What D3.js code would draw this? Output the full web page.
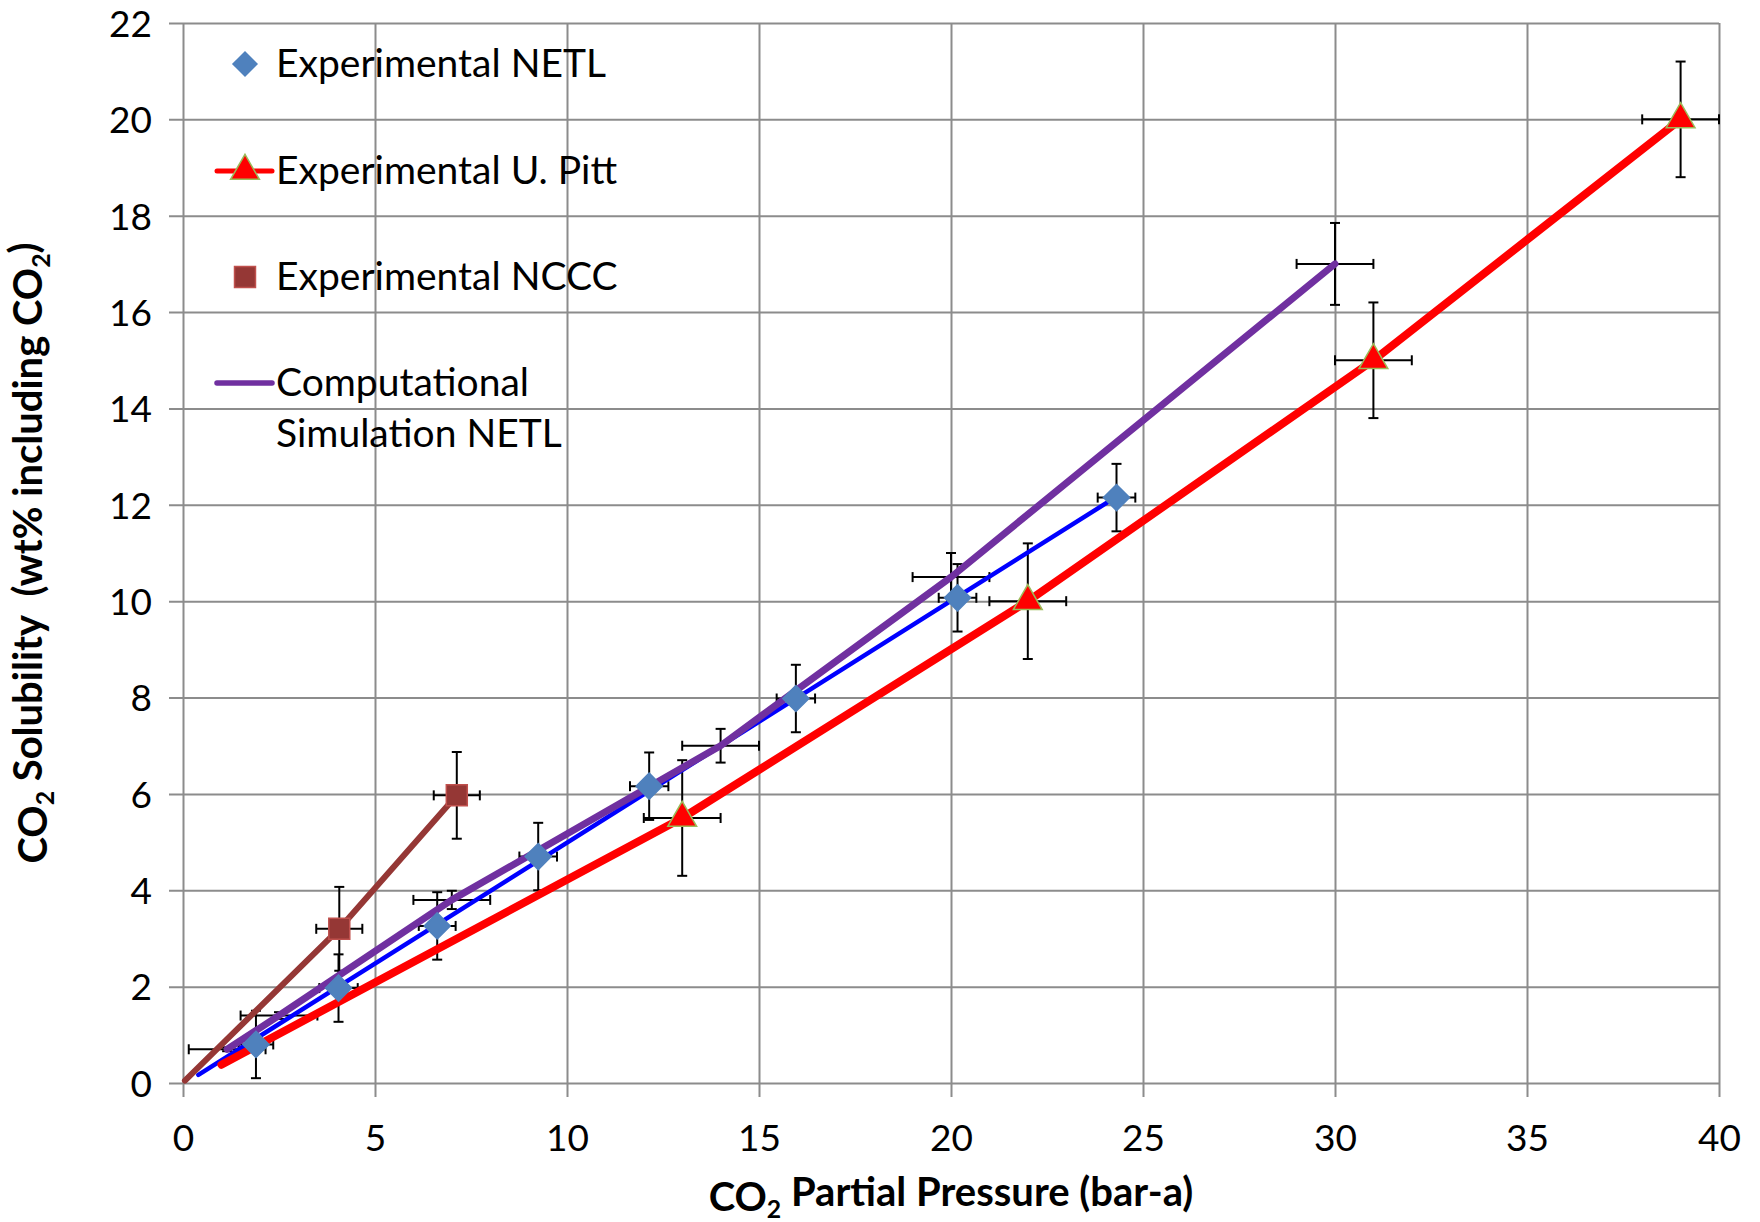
<!DOCTYPE html>
<html>
<head>
<meta charset="utf-8">
<script src="https://cdn.jsdelivr.net/npm/d3@7"></script>
<style>
body { margin: 0; background: #fff; }
text { font-family: Lato, "Open Sans", sans-serif; fill: #000; }
</style>
</head>
<body>
<div id="chart"></div>
<script>
// Experimental NETL (diamonds)
var netlX = [1.9, 4.05, 6.62, 9.25, 12.14, 15.96, 20.17, 24.31],
    netlY = [0.8, 1.97, 3.26, 4.7, 6.16, 7.98, 10.07, 12.15],
    netlXErr = [0.45, 0.5, 0.48, 0.49, 0.5, 0.5, 0.49, 0.49],
    netlYErr = [0.7, 0.7, 0.7, 0.7, 0.7, 0.7, 0.7, 0.7];
// straight blue fit through the NETL points
var fitX = [0.4, 24.31],
    fitY = [0.17, 12.17];
// Experimental U. Pitt (triangles), line starts at pittStart
var pittStart = [1.0, 0.38],
    pittX = [13.0, 22.0, 31.0, 39.0],
    pittY = [5.5, 10.0, 15.0, 20.0],
    pittXErr = [1, 1, 1, 1],
    pittYErr = [1.2, 1.2, 1.2, 1.2];
// Experimental NCCC (squares)
var ncccStart = [0.05, 0.05],
    ncccX = [4.07, 7.13],
    ncccY = [3.2, 5.97],
    ncccXErr = [0.6, 0.6],
    ncccYErr = [0.87, 0.9];
// Computational Simulation NETL
var simX = [1.15, 2.5, 7.0, 14.0, 20.0, 30.0],
    simY = [0.7, 1.4, 3.8, 7.0, 10.5, 17.0],
    simXErr = [1, 1, 1, 1, 1, 1],
    simYErr = [0.04, 0.07, 0.19, 0.35, 0.5, 0.85];

var xTicks = [0, 5, 10, 15, 20, 25, 30, 35, 40],
    yTicks = [0, 2, 4, 6, 8, 10, 12, 14, 16, 18, 20, 22];
var legendLabels = [['Experimental NETL'], ['Experimental U. Pitt'],
    ['Experimental NCCC'], ['Computational', 'Simulation NETL']];

var W = 1760, H = 1222,
    pL = 183, pR = 1719, pT = 23, pB = 1083,
    fontSize = 39,
    tickFont = 37;

var svg = d3.select('#chart').append('svg')
    .attr('width', W)
    .attr('height', H);

var x = d3.scaleLinear().domain([0, 40]).range([pL, pR]),
    y = d3.scaleLinear().domain([0, 22]).range([pB, pT]);

function pts(xs, ys) {
    return xs.map(function(v, i) { return [v, ys[i]]; });
}

// grid + ticks (gridlines run 14px past the plot as tick marks)
var yAxis = svg.append('g')
    .attr('transform', 'translate(' + (pL - 14) + ',0)')
    .call(d3.axisLeft(y).tickValues(yTicks).tickSizeInner(-(pR - pL + 14))
        .tickSizeOuter(0).tickPadding(17));
var xAxis = svg.append('g')
    .attr('transform', 'translate(0,' + (pB + 14) + ')')
    .call(d3.axisBottom(x).tickValues(xTicks).tickSizeInner(-(pB + 14 - pT))
        .tickSizeOuter(0).tickPadding(28));
[xAxis, yAxis].forEach(function(a) {
    a.select('.domain').remove();
    a.selectAll('.tick line').attr('stroke', '#8c8c8c').attr('stroke-width', 2);
    a.selectAll('.tick text')
        .style('font-family', 'Lato, "Open Sans", sans-serif')
        .style('font-size', tickFont + 'px')
        .attr('fill', '#000');
});
yAxis.selectAll('.tick text').attr('dy', '0.36em');

// error bars
function errorBars(xs, ys, ex, ey) {
    var g = svg.append('g').attr('stroke', '#000').attr('stroke-width', 2),
        cap = 5;
    xs.forEach(function(v, i) {
        var cx = x(v), cy = y(ys[i]);
        if (ex[i] > 0) {
            g.append('line').attr('x1', x(v - ex[i])).attr('x2', x(v + ex[i]))
                .attr('y1', cy).attr('y2', cy);
            g.append('line').attr('x1', x(v - ex[i])).attr('x2', x(v - ex[i]))
                .attr('y1', cy - cap).attr('y2', cy + cap);
            g.append('line').attr('x1', x(v + ex[i])).attr('x2', x(v + ex[i]))
                .attr('y1', cy - cap).attr('y2', cy + cap);
        }
        if (ey[i] > 0) {
            g.append('line').attr('x1', cx).attr('x2', cx)
                .attr('y1', y(ys[i] - ey[i])).attr('y2', y(ys[i] + ey[i]));
            g.append('line').attr('x1', cx - cap).attr('x2', cx + cap)
                .attr('y1', y(ys[i] - ey[i])).attr('y2', y(ys[i] - ey[i]));
            g.append('line').attr('x1', cx - cap).attr('x2', cx + cap)
                .attr('y1', y(ys[i] + ey[i])).attr('y2', y(ys[i] + ey[i]));
        }
    });
}
errorBars(netlX, netlY, netlXErr, netlYErr);
errorBars(pittX, pittY, pittXErr, pittYErr);
errorBars(ncccX, ncccY, ncccXErr, ncccYErr);
errorBars(simX, simY, simXErr, simYErr);

// lines
var line = d3.line().x(function(d) { return x(d[0]); }).y(function(d) { return y(d[1]); });
function drawLine(data, color, width) {
    svg.append('path')
        .datum(data)
        .attr('d', line)
        .attr('fill', 'none')
        .attr('stroke', color)
        .attr('stroke-width', width)
        .attr('stroke-linecap', 'round')
        .attr('stroke-linejoin', 'round');
}
drawLine(pts(fitX, fitY), '#0000ff', 4.5);
drawLine([ncccStart].concat(pts(ncccX, ncccY)), '#953735', 6);
drawLine([pittStart].concat(pts(pittX, pittY)), '#ff0000', 8);
drawLine(pts(simX, simY), '#7030a0', 7);

// markers
var diamond = d3.symbol(d3.symbolSquare, 340),
    triangle = d3.symbol(d3.symbolTriangle, 360),
    square = d3.symbol(d3.symbolSquare, 440);
function drawMarkers(data, sym, fill, stroke, rot) {
    svg.append('g').selectAll('path')
        .data(data)
        .enter()
        .append('path')
        .attr('d', sym)
        .attr('transform', function(d) {
            return 'translate(' + x(d[0]) + ',' + y(d[1]) + ') rotate(' + rot + ')';
        })
        .attr('fill', fill)
        .attr('stroke', stroke)
        .attr('stroke-width', 1.5);
}
drawMarkers(pts(netlX, netlY), diamond, '#4f81bd', '#4f81bd', 45);
drawMarkers(pts(ncccX, ncccY), square, '#953735', '#c0504d', 0);
drawMarkers(pts(pittX, pittY), triangle, '#ff0000', '#9bbb59', 0);

// legend
var legend = svg.append('g');
var lgY = [64, 171, 277, 383];
legend.append('path').attr('d', diamond)
    .attr('transform', 'translate(245,' + lgY[0] + ') rotate(45)')
    .attr('fill', '#4f81bd');
legend.append('line').attr('x1', 217).attr('x2', 272).attr('y1', lgY[1]).attr('y2', lgY[1])
    .attr('stroke', '#ff0000').attr('stroke-width', 5).attr('stroke-linecap', 'round');
legend.append('path').attr('d', triangle)
    .attr('transform', 'translate(245,' + lgY[1] + ')')
    .attr('fill', '#ff0000').attr('stroke', '#9bbb59').attr('stroke-width', 1.5);
legend.append('path').attr('d', square)
    .attr('transform', 'translate(245,' + lgY[2] + ')')
    .attr('fill', '#953735').attr('stroke', '#c0504d').attr('stroke-width', 1.5);
legend.append('line').attr('x1', 217).attr('x2', 272).attr('y1', lgY[3]).attr('y2', lgY[3])
    .attr('stroke', '#7030a0').attr('stroke-width', 5.5).attr('stroke-linecap', 'round');
legendLabels.forEach(function(lines, i) {
    lines.forEach(function(t, j) {
        legend.append('text')
            .attr('x', 276)
            .attr('y', lgY[i] + 13 + j * 51)
            .style('font-size', fontSize + 'px')
            .text(t);
    });
});

// axis titles with subscript 2
function co2Title(sel, parts) {
    parts.forEach(function(p) {
        var t = sel.append('tspan').text(p[0]);
        if (p[1]) t.attr('font-size', '0.62em').attr('dy', '0.3em');
        else if (p[2]) t.attr('dy', '-0.3em');
    });
}
var xt = svg.append('text')
    .attr('x', (pL + pR) / 2)
    .attr('y', 1211)
    .attr('text-anchor', 'middle')
    .style('font-size', '40px')
    .style('font-weight', 'bold');
co2Title(xt, [['CO'], ['2', true], [' Partial Pressure (bar-a)', false, true]]);

var yt = svg.append('text')
    .attr('transform', 'translate(47,' + ((pT + pB) / 2) + ') rotate(-90)')
    .attr('text-anchor', 'middle')
    .style('font-size', '40px')
    .style('font-weight', 'bold')
    .style('white-space', 'pre');
co2Title(yt, [['CO'], ['2', true], [' Solubility  (wt% including CO', false, true], ['2', true], [')', false, true]]);
</script>
</body>
</html>
